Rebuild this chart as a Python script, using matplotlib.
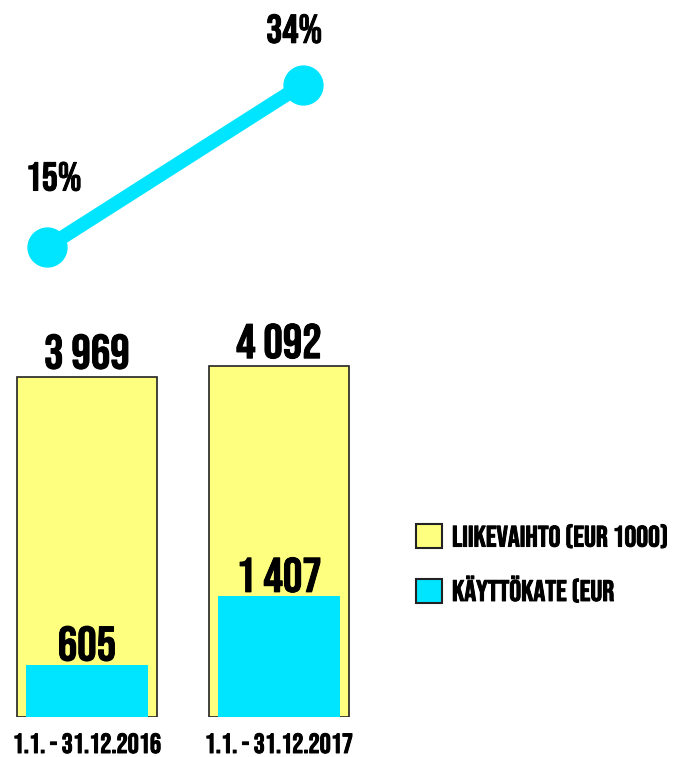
import matplotlib
matplotlib.use("Agg")
import matplotlib.pyplot as plt
import matplotlib.patheffects as pe
from matplotlib.patches import Patch

# data
periods = ["1.1. - 31.12.2016", "1.1. - 31.12.2017"]
liikevaihto = [3969, 4092]
kayttokate = [605, 1407]
kate_pct = [15, 34]
legend_labels = ["LIIKEVAIHTO (EUR 1000)", "KÄYTTÖKATE (EUR"]

YELLOW = "#FFFF7F"
CYAN = "#00E5FF"
plt.rcParams['font.family'] = ['Bebas Neue', 'Oswald', 'DejaVu Sans']
# the original lettering is a bit heavier than Bebas regular
bold = [pe.withStroke(linewidth=0.7, foreground="black")]

W, H = 676, 757
fig = plt.figure(figsize=(W / 100, H / 100), dpi=100)

def fmt(v):
    return f"{v:,}".replace(",", " ")

# bars
ax = fig.add_axes([0, 40 / H, 1, (H - 40) / H])
scale = 340 / 3969
x = list(range(len(periods)))
ax.bar(x, liikevaihto, width=0.73, color=YELLOW, edgecolor="#222222", linewidth=1.2, zorder=1)
ax.bar(x, kayttokate, width=0.635, color=CYAN, linewidth=0, zorder=2)
for xi, v in zip(x, liikevaihto):
    ax.annotate(fmt(v), (xi, v), xytext=(0, 6), textcoords="offset points",
                ha="center", va="baseline", fontsize=35, path_effects=bold)
for xi, v in zip(x, kayttokate):
    ax.annotate(fmt(v), (xi, v), xytext=(0, 3.3), textcoords="offset points",
                ha="center", va="baseline", fontsize=35, zorder=3, path_effects=bold)
ax.set_xlim(-87 / 192, (W - 87) / 192)
ax.set_ylim(0, (H - 40) / scale)
ax.axis("off")
for xi, p in zip(x, periods):
    fig.text((87 + xi * 192) / W, 4 / H, p, ha="center", va="baseline", fontsize=20,
             path_effects=bold)

# line
lx = fig.add_axes([0, 0, 1, 1])
lx.patch.set_alpha(0)
lx.plot(x, kate_pct, color=CYAN, linewidth=10, marker="o", markersize=28, solid_capstyle="round")
pct_offsets = [(5, 41), (-6, 30)]
for xi, v, off in zip(x, kate_pct, pct_offsets):
    lx.annotate(f"{v}%", (xi, v), xytext=off, textcoords="offset points",
                ha="center", va="baseline", fontsize=29, path_effects=bold)
ppu = 163 / 19
x0 = 46.5
lx.set_xlim(-x0 / 256, (W - x0) / 256)
lx.set_ylim(15 - (H - 247.5) / ppu, 15 + 247.5 / ppu)
lx.axis("off")

handles = [Patch(facecolor=YELLOW, edgecolor="#222222", linewidth=1.5),
           Patch(facecolor=CYAN, edgecolor="#222222", linewidth=1.5)]
leg = fig.legend(handles, legend_labels, loc="upper left", bbox_to_anchor=(389 / W, 1 - 497 / H),
                 frameon=False, fontsize=21.3, handlelength=0.88, handleheight=0.88,
                 handletextpad=0.35, labelspacing=0.93)
for t in leg.get_texts():
    t.set_path_effects(bold)

fig.savefig("out.png", dpi=100)
